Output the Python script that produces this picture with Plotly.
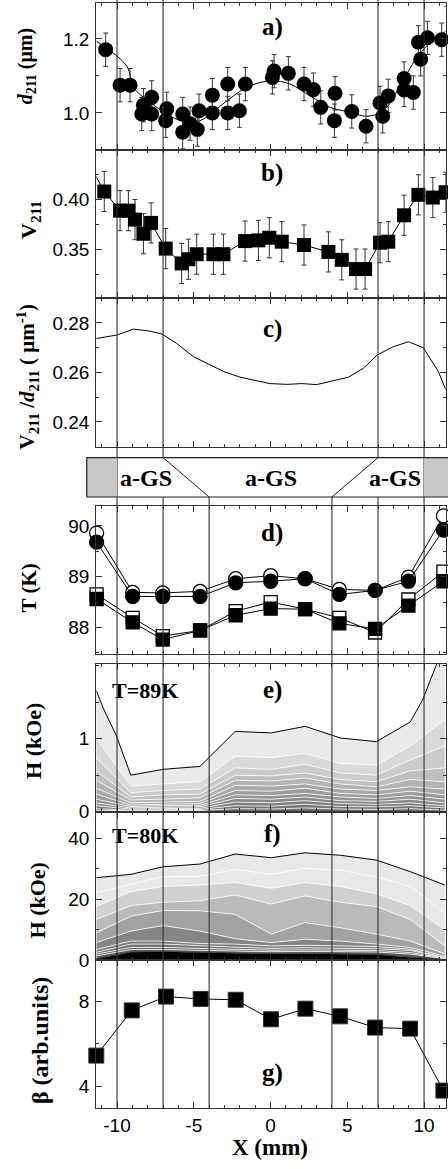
import plotly.graph_objects as go

W, H = 448, 1169
X_RANGE = [-11.35, 11.41]
XDOM = [96.3 / W, 445.7 / W]

# ---------------- data ----------------
# a) d211 (um)
a_x = [-10.74, -9.80, -9.15, -8.28, -7.74, -8.39, -7.74, -6.76, -6.83, -5.72, -5.72, -5.24, -4.77, -4.66,
       -3.79, -3.79, -2.79, -2.79, -2.03, -1.64, 0.12, 0.23, 1.16, 2.18, 2.79, 3.27, 4.20, 4.16, 5.29,
       6.22, 7.13, 7.31, 7.67, 8.70, 8.70, 9.30, 9.63, 9.78, 10.22, 11.15, 11.48]
a_y = [1.171, 1.075, 1.075, 1.021, 1.042, 0.997, 0.997, 1.011, 0.979, 0.997, 0.948, 0.971, 0.955, 1.006,
       1.048, 1.000, 1.078, 1.000, 1.006, 1.078, 1.096, 1.113, 1.107, 1.078, 1.063, 1.015, 1.053, 0.979,
       1.004, 0.964, 1.027, 0.991, 1.046, 1.093, 1.062, 1.055, 1.191, 1.145, 1.203, 1.198, 1.243]
a_err = [0.045] * len(a_x)
a_fit_x = [-11.35, -9.37, -8.94, -7.85, -6.76, -5.68, -4.59, -3.50, -2.42, -1.34, 0.03, 1.27, 2.57,
           3.88, 5.18, 6.27, 7.35, 8.44, 9.52, 10.61, 11.41]
a_fit_y = [1.194, 1.127, 1.069, 1.029, 0.997, 0.977, 0.979, 1.011, 1.046, 1.073, 1.087, 1.078, 1.046,
           1.015, 1.002, 0.991, 1.006, 1.073, 1.149, 1.198, 1.220]

# b) V211
b_x = [-10.83, -9.80, -9.26, -8.83, -8.28, -7.78, -6.83, -5.79, -5.35, -4.81, -3.72, -3.07, -1.66,
       -0.79, -0.08, 0.73, 2.18, 3.77, 4.64, 5.57, 6.16, 7.13, 7.67, 8.70, 9.63, 10.57, 11.41]
b_y = [0.4076, 0.3885, 0.3885, 0.3796, 0.3655, 0.3763, 0.3507, 0.3359, 0.3401, 0.3451, 0.3451, 0.3451,
       0.3582, 0.3589, 0.3615, 0.3576, 0.3543, 0.3474, 0.3395, 0.3303, 0.3303, 0.3566, 0.3576, 0.3839,
       0.4043, 0.4016, 0.4069]
b_err = [0.02] * len(b_x)
b_lead_x = [-11.6]
b_lead_y = [0.429]

# c) V211/d211
c_x = [-11.35, -10.02, -8.94, -7.96, -7.07, -6.11, -5.03, -4.05, -3.07, -1.99, -1.01, -0.03, 1.06, 2.03,
       3.01, 4.09, 5.07, 6.05, 6.96, 8.00, 8.98, 9.95, 10.93, 11.41]
c_y = [0.2737, 0.2751, 0.2775, 0.2768, 0.2755, 0.2717, 0.2664, 0.2633, 0.2604, 0.2581, 0.2568, 0.2555,
       0.2552, 0.2555, 0.2551, 0.2567, 0.2581, 0.2617, 0.2671, 0.2704, 0.2724, 0.2700, 0.2604, 0.2531]

# d) T (K)
d_x = [-11.33, -8.98, -7.02, -4.59, -2.27, 0.01, 2.25, 4.48, 6.81, 8.98, 11.26]
d_circ_open = [89.86, 88.69, 88.68, 88.71, 88.96, 89.02, 88.96, 88.75, 88.73, 88.99, 90.20]
d_circ_fill = [89.68, 88.61, 88.61, 88.61, 88.88, 88.91, 88.96, 88.65, 88.73, 88.91, 89.92]
d_sq_open = [88.65, 88.19, 87.83, 87.94, 88.32, 88.50, 88.36, 88.19, 87.90, 88.55, 89.10]
d_sq_fill = [88.56, 88.10, 87.76, 87.94, 88.24, 88.37, 88.36, 88.08, 87.97, 88.43, 88.91]

# e) H (kOe), T=89K : contour boundaries
e_top_x = [-11.35, -10.9, -10.06, -9.1, -7.0, -4.6, -2.3, 0.05, 2.25, 4.55, 6.9, 9.1, 9.9, 10.83, 11.45]
e_top = [1.66, 1.42, 1.05, 0.50, 0.58, 0.62, 1.10, 1.08, 1.17, 1.01, 0.96, 1.23, 1.53, 2.03, 2.60]
e_x = [-11.35, -9.1, -7.0, -4.6, -2.3, 0.05, 2.25, 4.55, 6.9, 9.1, 11.35]
e_levels = [  # from top line down
    [1.01, 0.35, 0.38, 0.41, 0.76, 0.74, 0.80, 0.66, 0.64, 0.90, 1.26],
    [0.74, 0.26, 0.29, 0.31, 0.60, 0.58, 0.65, 0.53, 0.50, 0.71, 0.90],
    [0.56, 0.20, 0.23, 0.24, 0.50, 0.49, 0.53, 0.44, 0.41, 0.56, 0.60],
    [0.43, 0.16, 0.17, 0.19, 0.43, 0.42, 0.46, 0.38, 0.34, 0.44, 0.41],
    [0.32, 0.12, 0.13, 0.14, 0.36, 0.35, 0.38, 0.31, 0.29, 0.34, 0.31],
    [0.24, 0.09, 0.10, 0.11, 0.29, 0.28, 0.32, 0.25, 0.23, 0.28, 0.23],
    [0.17, 0.07, 0.08, 0.085, 0.23, 0.22, 0.25, 0.20, 0.18, 0.22, 0.17],
    [0.12, 0.05, 0.06, 0.065, 0.18, 0.17, 0.20, 0.15, 0.14, 0.17, 0.12],
    [0.08, 0.035, 0.04, 0.045, 0.13, 0.12, 0.15, 0.11, 0.10, 0.12, 0.08],
    [0.04, 0.02, 0.025, 0.03, 0.08, 0.075, 0.10, 0.07, 0.065, 0.08, 0.05],
    [0.015, 0.01, 0.012, 0.015, 0.04, 0.035, 0.05, 0.035, 0.03, 0.04, 0.02],
]

# f) H (kOe), T=80K
f_x = [-11.35, -9.1, -7.0, -4.6, -2.3, 0.05, 2.25, 4.55, 6.9, 9.1, 11.35]
f_top = [27.1, 28.2, 30.7, 31.6, 34.9, 33.7, 35.3, 34.5, 32.9, 29.1, 24.7]
f_levels = [  # from top line down
    [22.2, 25.0, 27.4, 27.6, 29.8, 28.2, 30.2, 29.6, 27.3, 24.3, 15.5],
    [17.6, 22.5, 24.2, 24.7, 25.5, 23.6, 25.5, 24.2, 21.8, 17.9, 10.0],
    [13.3, 17.9, 19.0, 19.5, 21.4, 18.4, 21.1, 19.0, 17.6, 13.3, 4.6],
    [8.9, 14.4, 16.3, 16.2, 15.0, 8.5, 12.3, 10.6, 8.5, 6.2, 2.0],
    [5.7, 9.5, 11.3, 9.5, 7.0, 5.7, 6.8, 6.2, 5.2, 4.1, 1.2],
    [3.4, 6.2, 6.2, 5.4, 5.2, 4.6, 4.8, 4.6, 4.4, 3.5, 0.8],
    [2.5, 5.2, 5.2, 4.6, 4.2, 3.8, 4.0, 3.8, 3.7, 3.1, 0.7],
    [1.9, 4.1, 4.1, 3.8, 3.6, 3.2, 3.3, 3.2, 3.1, 2.4, 0.6],
    [1.3, 3.4, 3.4, 3.1, 2.9, 2.7, 2.8, 2.7, 2.6, 1.9, 0.4],
]
f_black = [0.3, 2.5, 2.7, 2.5, 2.2, 1.9, 2.0, 1.9, 1.8, 0.8, 0.2]

# g) beta
g_x = [-11.35, -9.04, -6.81, -4.55, -2.27, 0.03, 2.27, 4.53, 6.81, 9.09, 11.26]
g_y = [5.45, 7.58, 8.23, 8.12, 8.08, 7.16, 7.66, 7.30, 6.77, 6.72, 3.80]

x_tick_vals = [-10, -5, 0, 5, 10]
x_tick_text = ['-10', '-5', '0', '5', '10']
region_lines_full = [-10, 10]
region_lines_split = [-7, 7]
region_lines_low = [-4, 4]
band_labels = ['a-GS', 'a-GS', 'a-GS']
band_label_x = [-8.1, 0.0, 8.1]

# ---------------- layout helpers ----------------
def ydom(top_px, bot_px):
    return [1 - bot_px / H, 1 - top_px / H]

def xp(v):
    return XDOM[0] + (v - X_RANGE[0]) / (X_RANGE[1] - X_RANGE[0]) * (XDOM[1] - XDOM[0])

def yp(px):
    return 1 - px / H

panels = [
    # top px, bottom px, y range, tickvals, minor dtick, tickformat
    (2.7, 151.7, [0.899, 1.298], [1.0, 1.2], 0.1, '.1f'),
    (151.7, 301.0, [0.3013, 0.4487], [0.35, 0.40], 0.025, '.2f'),
    (301.0, 451.0, [0.23, 0.29], [0.24, 0.26, 0.28], 0.01, '.2f'),
    (511.0, 660.0, [87.48, 90.39], [88, 89, 90], 0.5, 'd'),
    (670.0, 819.3, [0, 2.03], [0, 1], 0.5, 'd'),
    (819.3, 969.0, [0, 48.9], [0, 20, 40], 10, 'd'),
    (969.0, 1118.3, [2.99, 9.96], [4, 8], 2, 'd'),
]

AX = '#333333'
TICKFONT = dict(family='Liberation Sans, Arial, sans-serif', size=19, color='black')
SERIF = 'Liberation Serif, Times New Roman, serif'

fig = go.Figure()
layout = dict(width=W, height=H, margin=dict(l=0, r=0, t=0, b=0), autosize=False,
              paper_bgcolor='white', plot_bgcolor='rgba(0,0,0,0)', showlegend=False)

for i, (tp, bp, yr, tv, mdt, tf) in enumerate(panels, start=1):
    sx = '' if i == 1 else str(i)
    last = (i == len(panels))
    layout['xaxis' + sx] = dict(
        domain=XDOM, range=X_RANGE, anchor='y' + sx, showline=True, linecolor=AX, linewidth=1.2,
        mirror='ticks', ticks='inside', ticklen=6, tickcolor=AX, tickwidth=1,
        tickmode='array', tickvals=x_tick_vals, ticktext=x_tick_text,
        showticklabels=last, tickfont=TICKFONT, showgrid=False, zeroline=False, ticklabelstandoff=0,
        minor=dict(dtick=1, tick0=0, ticks='inside', ticklen=3, tickcolor=AX, showgrid=False))
    layout['yaxis' + sx] = dict(
        domain=ydom(tp, bp), range=yr, anchor='x' + sx, showline=True, linecolor=AX, linewidth=1.2,
        mirror='ticks', ticks='inside', ticklen=6, tickcolor=AX, tickwidth=1,
        tickmode='array', tickvals=tv, ticktext=[format(v, tf) for v in tv],
        tickfont=TICKFONT, showgrid=False, zeroline=False, ticklabelstandoff=2,
        minor=dict(dtick=mdt, tick0=0, ticks='inside', ticklen=3, tickcolor=AX, showgrid=False))

def ax(i):
    return dict(xaxis='x' if i == 1 else 'x%d' % i, yaxis='y' if i == 1 else 'y%d' % i)

# ---------- a ----------
fig.add_trace(go.Scatter(x=a_fit_x, y=a_fit_y, mode='lines', line=dict(color='black', width=1, shape='spline'), **ax(1)))
fig.add_trace(go.Scatter(x=a_x, y=a_y, mode='markers', cliponaxis=False,
                         marker=dict(symbol='circle', size=15, color='black'),
                         error_y=dict(type='data', array=a_err, color='#333', thickness=1, width=2.5), **ax(1)))
# ---------- b ----------
fig.add_trace(go.Scatter(x=b_lead_x + b_x, y=b_lead_y + b_y, mode='lines', line=dict(color='black', width=1), **ax(2)))
fig.add_trace(go.Scatter(x=b_x, y=b_y, mode='markers', cliponaxis=False,
                         marker=dict(symbol='square', size=14, color='black'),
                         error_y=dict(type='data', array=b_err, color='#333', thickness=1, width=2.5), **ax(2)))
# ---------- c ----------
fig.add_trace(go.Scatter(x=c_x, y=c_y, mode='lines', line=dict(color='black', width=1), **ax(3)))
# ---------- d ----------
for ys, sym, fill, size in [(d_circ_open, 'circle', 'white', 14), (d_circ_fill, 'circle', 'black', 14),
                            (d_sq_open, 'square', 'white', 13), (d_sq_fill, 'square', 'black', 13)]:
    fig.add_trace(go.Scatter(x=d_x, y=ys, mode='lines+markers', cliponaxis=False,
                             line=dict(color='black', width=1),
                             marker=dict(symbol=sym, size=size, color=fill, line=dict(color='black', width=1.3)),
                             **ax(4)))
# ---------- e ----------
e_colors = ['#6b6b6b', '#757575', '#7f7f7f', '#898989', '#939393', '#9d9d9d', '#a8a8a8', '#b3b3b3',
            '#bfbfbf', '#cbcbcb', '#d9d9d9', '#eaeaea']
e_stack = list(reversed(e_levels))
for k, lev in enumerate(e_stack):
    fig.add_trace(go.Scatter(x=e_x, y=lev, mode='lines', line=dict(color='white', width=0.8),
                             fill='tozeroy' if k == 0 else 'tonexty', fillcolor=e_colors[k], **ax(5)))
fig.add_trace(go.Scatter(x=e_top_x, y=e_top, mode='lines', line=dict(color='black', width=1),
                         fill='tonexty', fillcolor=e_colors[-1], **ax(5)))
# ---------- f ----------
f_colors = ['#000000', '#5a5a5a', '#676767', '#717171', '#7b7b7b', '#858585', '#a2a2a2', '#bababa',
            '#d1d1d1', '#e8e8e8']
fig.add_trace(go.Scatter(x=f_x, y=f_black, mode='lines', line=dict(color='black', width=0.5),
                         fill='tozeroy', fillcolor='black', **ax(6)))
f_stack = list(reversed(f_levels))
for k, lev in enumerate(f_stack):
    fig.add_trace(go.Scatter(x=f_x, y=lev, mode='lines', line=dict(color='white', width=0.8),
                             fill='tonexty', fillcolor=f_colors[k + 1] if k + 1 < len(f_colors) else f_colors[-1], **ax(6)))
fig.add_trace(go.Scatter(x=f_x, y=f_top, mode='lines', line=dict(color='black', width=1),
                         fill='tonexty', fillcolor='#e8e8e8', **ax(6)))
# ---------- g ----------
fig.add_trace(go.Scatter(x=g_x, y=g_y, mode='lines+markers', cliponaxis=False,
                         line=dict(color='black', width=1),
                         marker=dict(symbol='square', size=15, color='black', line=dict(color='#333', width=1)),
                         **ax(7)))

# ---------------- shapes ----------------
shapes = []
LINEC = '#303030'
BAND_TOP, BAND_BOT = 462.0, 501.7
G_BOT = 1118.3
for v in region_lines_full:
    shapes.append(dict(type='line', xref='paper', yref='paper', x0=xp(v), x1=xp(v), y0=yp(0), y1=yp(G_BOT),
                       line=dict(color=LINEC, width=1.1)))
for v in region_lines_split:
    shapes.append(dict(type='line', xref='paper', yref='paper', x0=xp(v), x1=xp(v), y0=yp(0), y1=yp(BAND_TOP),
                       line=dict(color=LINEC, width=1.1)))
    shapes.append(dict(type='line', xref='paper', yref='paper', x0=xp(v), x1=xp(v), y0=yp(BAND_BOT), y1=yp(G_BOT),
                       line=dict(color=LINEC, width=1.1)))
for v in region_lines_low:
    shapes.append(dict(type='line', xref='paper', yref='paper', x0=xp(v), x1=xp(v), y0=yp(BAND_BOT), y1=yp(G_BOT),
                       line=dict(color=LINEC, width=1.1)))
band_l, band_r = -11.97, 12.3
shapes.append(dict(type='rect', xref='paper', yref='paper', x0=xp(band_l), x1=xp(-10), y0=yp(BAND_BOT), y1=yp(BAND_TOP),
                   fillcolor='#c8c8c8', line=dict(width=0)))
shapes.append(dict(type='rect', xref='paper', yref='paper', x0=xp(10), x1=xp(band_r), y0=yp(BAND_BOT), y1=yp(BAND_TOP),
                   fillcolor='#c8c8c8', line=dict(width=0)))
shapes.append(dict(type='rect', xref='paper', yref='paper', x0=xp(band_l), x1=xp(band_r), y0=yp(BAND_BOT), y1=yp(BAND_TOP),
                   line=dict(color='#222', width=1.2)))
for a, b in [(-7, -4), (7, 4)]:
    shapes.append(dict(type='line', xref='paper', yref='paper', x0=xp(a), x1=xp(b), y0=yp(BAND_TOP), y1=yp(BAND_BOT),
                       line=dict(color='#222', width=1)))
layout['shapes'] = shapes

# ---------------- annotations ----------------
ann = []
def txt(text, xpx, ypx, size, angle=0, family=SERIF):
    ann.append(dict(text=text, x=xpx / W, y=yp(ypx), xref='paper', yref='paper', showarrow=False,
                    xanchor='center', yanchor='middle', textangle=angle, borderpad=0,
                    font=dict(family=family, size=size, color='black')))

for lab, ypx in [('a)', 27), ('b)', 175), ('c)', 332), ('d)', 538), ('e)', 697), ('f)', 842), ('g)', 1083)]:
    txt('<b>%s</b>' % lab, 272, ypx, 25)
txt('<b>T=89K</b>', 145, 697, 22)
txt('<b>T=80K</b>', 145, 843, 22)
for lab, xv in zip(band_labels, band_label_x):
    ann.append(dict(text='<b>%s</b>' % lab, x=xp(xv), y=yp(483), xref='paper', yref='paper', showarrow=False,
                    xanchor='center', yanchor='middle', font=dict(family=SERIF, size=24, color='black')))

txt('<b><i>d</i><sub>211</sub> (μm)</b>', 26, 67, 20, -90)
txt('<b>V<sub>211</sub></b>', 30, 222, 22, -90)
txt('<b>V<sub>211</sub> /<i>d</i><sub>211</sub> ( μm<sup>-1</sup>)</b>', 27, 381, 21, -90)
txt('<b>T (K)</b>', 29, 594, 21, -90)
txt('<b>H (kOe)</b>', 34, 748, 22, -90)
txt('<b>H (kOe)</b>', 37, 909, 22, -90)
txt('<b>β (arb.units)</b>', 40, 1051, 24, -90)
txt('<b>X (mm)</b>', 270, 1158, 23)
layout['annotations'] = ann

fig.update_layout(**layout)
fig.write_html('out.html', config={'displayModeBar': False},
               post_script="document.body.style.margin='0';document.body.style.overflow='hidden';")
